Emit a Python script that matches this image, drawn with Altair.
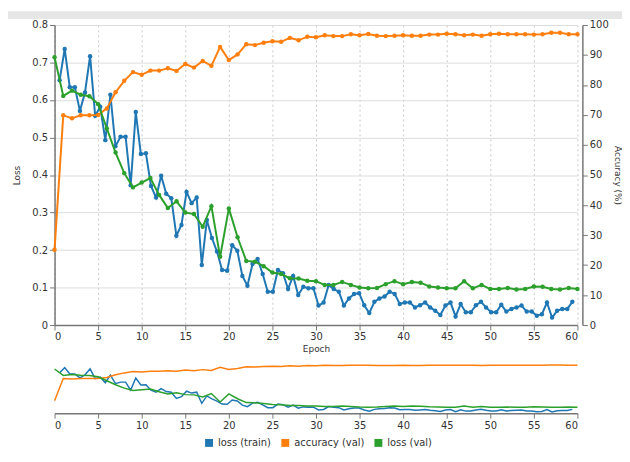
import altair as alt
import pandas as pd

# ---------------- data ----------------
SERIES = ["loss (train)", "accuracy (val)", "loss (val)"]
COLORS = ["#1f77b4", "#ff7f0e", "#2ca02c"]

# training loss is logged 102 times over 60 epochs
train_steps = list(range(1, 103))
STEPS_PER_EPOCH = 103 / 60
train_loss = [
    0.653, 0.736, 0.634, 0.634, 0.571, 0.620, 0.717, 0.558, 0.582, 0.493,
    0.614, 0.477, 0.502, 0.502, 0.373, 0.568, 0.456, 0.458, 0.371, 0.340,
    0.398, 0.350, 0.338, 0.238, 0.267, 0.355, 0.325, 0.340, 0.160, 0.280,
    0.232, 0.196, 0.147, 0.145, 0.213, 0.198, 0.131, 0.105, 0.163, 0.176,
    0.136, 0.089, 0.089, 0.147, 0.138, 0.096, 0.131, 0.080, 0.102, 0.098,
    0.098, 0.052, 0.060, 0.107, 0.096, 0.089, 0.052, 0.071, 0.083, 0.085,
    0.053, 0.032, 0.062, 0.071, 0.076, 0.089, 0.083, 0.056, 0.060, 0.060,
    0.047, 0.053, 0.060, 0.047, 0.038, 0.027, 0.052, 0.060, 0.023, 0.056,
    0.034, 0.034, 0.053, 0.062, 0.047, 0.034, 0.034, 0.054, 0.036, 0.043,
    0.047, 0.052, 0.036, 0.036, 0.025, 0.029, 0.060, 0.020, 0.038, 0.043,
    0.043, 0.062,
]

epochs = list(range(61))
val_loss = [
    0.714, 0.611, 0.625, 0.614, 0.610, 0.589, 0.524, 0.460, 0.405, 0.367,
    0.380, 0.392, 0.347, 0.312, 0.330, 0.300, 0.296, 0.262, 0.317, 0.182,
    0.311, 0.234, 0.171, 0.169, 0.157, 0.140, 0.136, 0.125, 0.124, 0.118,
    0.117, 0.107, 0.107, 0.115, 0.107, 0.100, 0.098, 0.099, 0.109, 0.117,
    0.109, 0.115, 0.113, 0.103, 0.100, 0.098, 0.098, 0.117, 0.098, 0.107,
    0.096, 0.096, 0.099, 0.095, 0.096, 0.103, 0.102, 0.096, 0.095, 0.099,
    0.096,
]
val_acc = [
    25.1, 69.9, 68.9, 69.9, 69.9, 70.0, 72.2, 77.6, 81.4, 84.3,
    83.4, 84.8, 84.8, 85.6, 84.7, 87.0, 85.8, 88.0, 86.4, 92.7,
    88.3, 90.2, 93.6, 93.3, 94.1, 94.6, 94.4, 95.7, 94.9, 96.1,
    95.9, 96.6, 96.3, 96.3, 96.9, 96.6, 97.0, 96.4, 96.3, 96.4,
    96.6, 96.4, 96.4, 96.8, 96.8, 97.1, 96.9, 96.6, 96.8, 96.4,
    96.9, 97.1, 96.9, 96.9, 96.9, 96.8, 96.9, 97.4, 97.4, 96.9,
    96.9,
]

loss_ticks = [0, 0.1, 0.2, 0.3, 0.4, 0.5, 0.6, 0.7, 0.8]
acc_ticks = [0, 10, 20, 30, 40, 50, 60, 70, 80, 90, 100]
epoch_ticks = list(range(0, 61, 5))

# ---------------- tables ----------------
df_train = pd.DataFrame({
    "epoch": [s / STEPS_PER_EPOCH for s in train_steps],
    "value": train_loss,
    "series": SERIES[0],
})
df_acc = pd.DataFrame({"epoch": epochs, "value": val_acc, "series": SERIES[1]})
df_vloss = pd.DataFrame({"epoch": epochs, "value": val_loss, "series": SERIES[2]})

FONT = "DejaVu Sans"
W = 528

color = alt.Color(
    "series:N",
    scale=alt.Scale(domain=SERIES, range=COLORS),
    legend=alt.Legend(
        title=None, orient="none", direction="horizontal",
        legendX=151, legendY=417,
        symbolType="square", symbolSize=64, symbolStrokeWidth=0,
        labelFontSize=10, labelFont=FONT, labelColor="#333",
        columnPadding=9, labelOffset=4,
    ),
)

x_main = alt.X(
    "epoch:Q",
    scale=alt.Scale(domain=[0, 60], nice=False, zero=False),
    axis=alt.Axis(
        values=epoch_ticks, title="Epoch", grid=True, gridDash=[2, 3],
        gridColor="#c8c8c8", gridWidth=1, titleFontSize=9, titleFontWeight="normal",
        titlePadding=3, labelFontSize=10,
    ),
)

pt = alt.OverlayMarkDef(filled=True, size=20, opacity=1)

loss_scale = alt.Scale(domain=[0, 0.8], nice=False)
acc_scale = alt.Scale(domain=[0, 100], nice=False)

band = alt.Chart(pd.DataFrame({"k": [0]})).mark_rect(color="#e6e6e6", clip=False).encode(
    x=alt.value(-47), x2=alt.value(573), y=alt.value(-14), y2=alt.value(-6)
)

blue = alt.Chart(df_train).mark_line(strokeWidth=2, point=pt).encode(
    x=x_main,
    y=alt.Y("value:Q", scale=loss_scale, axis=alt.Axis(
        values=loss_ticks, format=".1~f", title="Loss", orient="left",
        titleFontSize=9, titleFontWeight="normal", titlePadding=10, labelFontSize=10)),
    color=color,
)
orange = alt.Chart(df_acc).mark_line(strokeWidth=2, point=pt).encode(
    x=x_main,
    y=alt.Y("value:Q", scale=acc_scale, axis=alt.Axis(
        values=acc_ticks, title="Accuracy (%)", orient="right", offset=5,
        titleFontSize=9, titleFontWeight="normal", titlePadding=4, labelFontSize=10)),
    color=color,
)
green = alt.Chart(df_vloss).mark_line(strokeWidth=2, point=pt).encode(
    x=x_main,
    y=alt.Y("value:Q", scale=loss_scale, axis=None),
    color=color,
)

top = alt.layer(band, blue, orange, green).resolve_scale(y="independent").properties(
    width=W, height=303
)

x_ov = alt.X(
    "epoch:Q",
    scale=alt.Scale(domain=[0, 60], nice=False, zero=False),
    axis=alt.Axis(values=epoch_ticks, title=None, grid=False, labelFontSize=10),
)
ov_b = alt.Chart(df_train).mark_line(strokeWidth=1.5).encode(
    x=x_ov, y=alt.Y("value:Q", scale=loss_scale, axis=None), color=color)
ov_o = alt.Chart(df_acc).mark_line(strokeWidth=1.5).encode(
    x=x_ov, y=alt.Y("value:Q", scale=acc_scale, axis=None), color=color)
ov_g = alt.Chart(df_vloss).mark_line(strokeWidth=1.5).encode(
    x=x_ov, y=alt.Y("value:Q", scale=loss_scale, axis=None), color=color)

overview = alt.layer(ov_b, ov_o, ov_g).resolve_scale(y="independent").properties(
    width=W, height=50
)

chart = alt.vconcat(top, overview, spacing=8).properties(
    padding={"left": 0, "top": 1, "right": 0, "bottom": 0}
).configure_view(stroke=None).configure_axis(
    labelFont=FONT, titleFont=FONT, labelColor="#333", titleColor="#333",
    domainColor="#777", tickColor="#777", domainWidth=1.5, tickSize=5,
    labelPadding=2,
)

chart.save("out.html", embed_options={"renderer": "svg", "actions": False})
